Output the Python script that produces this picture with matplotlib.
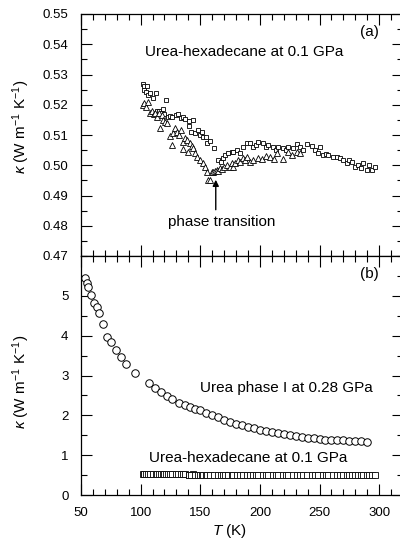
import matplotlib
matplotlib.use("Agg")
import matplotlib.pyplot as plt
from matplotlib.ticker import MultipleLocator

plt.rcParams['font.family'] = ['Liberation Sans', 'DejaVu Sans']
plt.rcParams['mathtext.fontset'] = 'custom'
plt.rcParams['mathtext.rm'] = 'Liberation Sans'
plt.rcParams['mathtext.it'] = 'Liberation Sans:italic'

# ---- data: urea-hexadecane at 0.1 GPa, squares ----
sq_T = [101.7, 102.6, 103.0, 105.1, 104.5, 106.3, 107.9, 110.1, 112.9, 113.5,
        115.2, 117.0, 118.5, 119.6, 121.3, 123.0, 124.7, 126.5, 129.7, 131.6,
        133.6, 135.4, 137.2, 140.6, 144.2, 140.9, 142.0, 145.6, 148.4,
        149.8, 151.2, 152.6, 154.9, 155.9, 158.2, 161.6, 165.2, 167.0, 169.4, 170.8,
        173.6, 176.4, 177.8, 181.1, 183.5, 186.2, 189.5, 191.8, 194.6, 196.5, 198.7,
        202.9, 205.0, 207.1, 211.3, 213.5, 215.5, 219.7, 221.8, 223.9, 228.1, 230.9,
        233.7, 236.5, 239.3, 243.5, 246.3, 250.5, 249.1, 253.3, 255.4, 257.5, 261.7,
        264.5, 267.3, 270.1, 272.9, 275.0, 277.1, 279.9, 282.6, 284.7, 286.8, 289.7,
        291.8, 293.9, 296.6]
sq_k = [0.5269, 0.5262, 0.5250, 0.5262, 0.5243, 0.5232, 0.5240, 0.5221, 0.5238, 0.5180,
        0.5178, 0.5172, 0.5185, 0.5170, 0.5216, 0.5160, 0.5163, 0.5158, 0.5166, 0.5168,
        0.5155, 0.5160, 0.5152, 0.5146, 0.5150, 0.5130, 0.5111, 0.5108, 0.5117,
        0.5100, 0.5111, 0.5092, 0.5094, 0.5073, 0.5081, 0.5056, 0.5017, 0.5012, 0.5023, 0.5034,
        0.5039, 0.5045, 0.5045, 0.5050, 0.5040, 0.5061, 0.5073, 0.5073, 0.5061, 0.5068, 0.5078,
        0.5073, 0.5060, 0.5067, 0.5061, 0.5052, 0.5061, 0.5056, 0.5050, 0.5061, 0.5056, 0.5070,
        0.5061, 0.5052, 0.5070, 0.5064, 0.5050, 0.5061, 0.5041, 0.5034, 0.5036, 0.5034, 0.5028,
        0.5028, 0.5023, 0.5017, 0.5006, 0.5018, 0.5012, 0.4995, 0.5001, 0.4992, 0.5006, 0.4984,
        0.5002, 0.4984, 0.4995]

# ---- data: urea-hexadecane at 0.1 GPa, triangles ----
tr_T = [102.0, 102.9, 104.2, 106.5, 107.9, 109.5, 111.0, 112.1, 114.0, 115.7,
        117.7, 116.3, 119.0, 120.5, 122.4, 124.7, 126.1, 127.5, 128.9, 130.8,
        132.2, 133.6, 135.3, 135.8, 137.0, 138.7, 140.0, 141.4, 143.0, 144.2,
        145.8, 147.6, 149.8, 152.1, 154.0, 155.4, 156.8, 158.2, 159.6, 161.0,
        162.4, 163.8, 165.2, 166.6, 168.3, 170.0, 172.2, 175.0, 176.4, 177.8,
        179.2, 182.0, 183.4, 186.2, 187.6, 189.0, 191.5, 194.6, 198.0, 201.6,
        205.0, 208.6, 211.5, 214.2, 219.7, 223.9, 227.0, 230.9, 233.7]
tr_k = [0.5200, 0.5205, 0.5193, 0.5210, 0.5172, 0.5180, 0.5168, 0.5172, 0.5160, 0.5174,
        0.5166, 0.5122, 0.5150, 0.5144, 0.5139, 0.5097, 0.5067, 0.5105, 0.5122, 0.5111,
        0.5100, 0.5117, 0.5078, 0.5053, 0.5090, 0.5083, 0.5045, 0.5073, 0.5062, 0.5056,
        0.5040, 0.5028, 0.5017, 0.5006, 0.4995, 0.4979, 0.4951, 0.4951, 0.4979, 0.4979,
        0.4982, 0.4984, 0.4980, 0.4990, 0.4988, 0.4995, 0.5001, 0.4995, 0.5006, 0.4995,
        0.5006, 0.5017, 0.5012, 0.5023, 0.5017, 0.5028, 0.5012, 0.5017, 0.5025, 0.5020,
        0.5030, 0.5028, 0.5022, 0.5039, 0.5020, 0.5045, 0.5035, 0.5045, 0.5039]

# ---- data: urea phase I at 0.28 GPa, circles ----
ci_T = [53.4, 55.3, 56.2, 58.1, 61.2, 63.4, 65.1, 68.2, 72.1, 75.2, 79.6, 83.3,
        87.8, 95.3, 107.0, 112.0, 116.8, 121.9, 126.6, 132.2, 137.2, 141.4, 145.6,
        150.0, 155.0, 160.0, 165.0, 170.0, 175.0, 180.0, 185.0, 190.0, 195.0, 200.0,
        205.0, 210.0, 215.0, 220.0, 225.0, 230.0, 235.0, 240.0, 245.0, 250.0, 255.0,
        260.0, 265.0, 270.0, 275.0, 280.0, 285.0, 290.0]
ci_k = [5.44, 5.33, 5.21, 5.03, 4.83, 4.71, 4.58, 4.29, 3.97, 3.85, 3.64, 3.47,
        3.29, 3.07, 2.81, 2.69, 2.59, 2.48, 2.42, 2.32, 2.27, 2.22, 2.17,
        2.13, 2.07, 2.01, 1.95, 1.89, 1.84, 1.79, 1.75, 1.71, 1.68, 1.64,
        1.61, 1.58, 1.55, 1.525, 1.50, 1.48, 1.46, 1.44, 1.425, 1.41, 1.39,
        1.38, 1.375, 1.37, 1.36, 1.35, 1.35, 1.34]

fig = plt.figure(figsize=(4.0, 5.47), dpi=100)
W, H = 400.0, 547.0
left = 81 / W
width = 322 / W
ax1 = fig.add_axes([left, (H - 256) / H, width, 242 / H])
ax2 = fig.add_axes([left, (H - 495) / H, width, 239 / H])

XMIN, XMAX = 50, 320
for ax in (ax1, ax2):
    ax.set_xlim(XMIN, XMAX)
    ax.xaxis.set_major_locator(MultipleLocator(50))
    ax.xaxis.set_minor_locator(MultipleLocator(10))
    ax.tick_params(which='both', direction='in', top=True, right=True,
                   labelsize=9.5, pad=9, width=0.8, colors='black')
    ax.tick_params(which='major', length=8)
    ax.tick_params(which='minor', length=4)
    for s in ax.spines.values():
        s.set_linewidth(0.9)

# top panel
ax1.plot(sq_T, sq_k, ls='none', marker='s', ms=3.4, mfc='white', mec='black', mew=0.6)
ax1.plot(tr_T, tr_k, ls='none', marker='^', ms=4.0, mfc='white', mec='black', mew=0.6)
ax1.set_ylim(0.47, 0.55)
ax1.yaxis.set_minor_locator(MultipleLocator(0.005))
ax1.set_yticks([0.47, 0.48, 0.49, 0.50, 0.51, 0.52, 0.53, 0.54, 0.55])
ax1.set_yticklabels(['0.47', '0.48', '0.49', '0.50', '0.51', '0.52', '0.53', '0.54', '0.55'])
ax1.tick_params(axis='x', labelbottom=False)
ax1.text(103.7, 0.5374, 'Urea-hexadecane at 0.1 GPa', fontsize=11, ha='left', va='center')
ax1.text(292, 0.5440, '(a)', fontsize=11, ha='center', va='center')
ax1.text(168, 0.4812, 'phase transition', fontsize=11, ha='center', va='center')
ax1.annotate('', xy=(163, 0.4952), xytext=(163, 0.4853),
             arrowprops=dict(arrowstyle='-|>', color='black', lw=1.0,
                             mutation_scale=9, shrinkA=0, shrinkB=0))
ax1.set_ylabel(r'$\kappa$ (W m$^{-1}$ K$^{-1}$)', fontsize=11)
ax1.yaxis.set_label_coords(-0.152, 0.533)

# bottom panel
ax2.plot(ci_T, ci_k, ls='none', marker='o', ms=5.4, mfc='white', mec='black', mew=0.7)
ax2.plot(sq_T, sq_k, ls='none', marker='s', ms=4.8,
         mfc='white', mec='black', mew=0.6)
ax2.set_ylim(0, 6)
ax2.set_yticks([0, 1, 2, 3, 4, 5])
ax2.yaxis.set_minor_locator(MultipleLocator(0.5))
ax2.text(292, 5.55, '(b)', fontsize=11, ha='center', va='center')
ax2.text(222.4, 2.675, 'Urea phase I at 0.28 GPa', fontsize=11, ha='center', va='center')
ax2.text(190.5, 0.925, 'Urea-hexadecane at 0.1 GPa', fontsize=11, ha='center', va='center')
ax2.set_ylabel(r'$\kappa$ (W m$^{-1}$ K$^{-1}$)', fontsize=11)
ax2.yaxis.set_label_coords(-0.152, 0.473)
ax2.set_xticks([50, 100, 150, 200, 250, 300])
ax2.set_xlabel(r'$T$ (K)', fontsize=11)
ax2.xaxis.set_label_coords(0.46, -0.115)

fig.savefig('out.png', dpi=100)
